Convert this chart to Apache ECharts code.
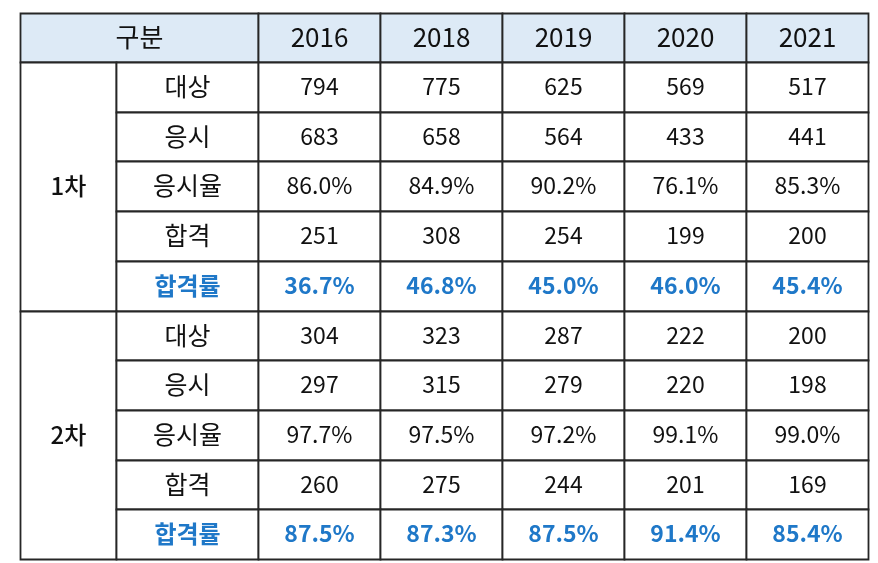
<!DOCTYPE html>
<html>
<head>
<meta charset="utf-8">
<script src="https://cdn.jsdelivr.net/npm/echarts@6/dist/echarts.min.js"></script>
<style>
html, body { margin: 0; padding: 0; background: #fff; }
#main { width: 878px; height: 563px; }
</style>
</head>
<body>
<div id="main"></div>
<script>
// 표 데이터
var years = ['2016', '2018', '2019', '2020', '2021']
var rounds = ['1차', '2차']
var items = ['대상', '응시', '응시율', '합격', '합격률']

var r1Target = [794, 775, 625, 569, 517]
var r1Applied = [683, 658, 564, 433, 441]
var r1ApplyRate = [86.0, 84.9, 90.2, 76.1, 85.3]
var r1Passed = [251, 308, 254, 199, 200]
var r1PassRate = [36.7, 46.8, 45.0, 46.0, 45.4]

var r2Target = [304, 323, 287, 222, 200]
var r2Applied = [297, 315, 279, 220, 198]
var r2ApplyRate = [97.7, 97.5, 97.2, 99.1, 99.0]
var r2Passed = [260, 275, 244, 201, 169]
var r2PassRate = [87.5, 87.3, 87.5, 91.4, 85.4]

// 레이아웃 (축 단위)
var colEdges = [0, 96, 238, 360, 482, 604, 726, 848]
var rowEdges = [0, 49]
for (var k = 1; k <= 10; k++) rowEdges.push(49 + k * 49.7)

var pct = function (v) { return v.toFixed(1) + '%' }

var cells = []
function addCell(c0, c1, r0, r1, text, kind) {
    cells.push({ c0: c0, c1: c1, r0: r0, r1: r1, text: text, kind: kind })
}

// 헤더
addCell(0, 2, 0, 1, '구분', 'head')
years.forEach(function (y, i) { addCell(i + 2, i + 3, 0, 1, y, 'head') })

var blocks = [
    [r1Target, r1Applied, r1ApplyRate, r1Passed, r1PassRate],
    [r2Target, r2Applied, r2ApplyRate, r2Passed, r2PassRate]
]
blocks.forEach(function (rows, b) {
    var base = 1 + b * 5
    addCell(0, 1, base, base + 5, rounds[b], 'round')
    rows.forEach(function (vals, j) {
        var isRate = j === 2 || j === 4
        var kind = j === 4 ? 'blue' : 'body'
        addCell(1, 2, base + j, base + j + 1, items[j], j === 4 ? 'blueLabel' : 'label')
        vals.forEach(function (v, i) {
            addCell(i + 2, i + 3, base + j, base + j + 1, isRate ? pct(v) : String(v), kind)
        })
    })
})

var fontOf = {
    head: '400 26px "Noto Sans CJK KR", sans-serif',
    round: '500 24px "Noto Sans CJK KR", sans-serif',
    label: '400 25px "Noto Sans CJK KR", sans-serif',
    blueLabel: '700 24px "Noto Sans CJK KR", sans-serif',
    body: '400 23px "Noto Sans CJK KR", sans-serif',
    blue: '700 23px "Noto Sans CJK KR", sans-serif'
}
var colorOf = {
    head: '#111', round: '#111', label: '#111',
    blueLabel: '#1f78c8', body: '#111', blue: '#1f78c8'
}

var myChart = echarts.init(document.getElementById('main'))
myChart.setOption({
    animation: false,
    grid: { left: 20, right: 10, top: 13, bottom: 4 },
    xAxis: { type: 'value', min: 0, max: colEdges[colEdges.length - 1], show: false },
    yAxis: { type: 'value', min: 0, max: rowEdges[rowEdges.length - 1], inverse: true, show: false },
    series: [{
        type: 'custom',
        data: cells.map(function (c, i) { return [colEdges[c.c0], rowEdges[c.r0], i] }),
        renderItem: function (params, api) {
            var c = cells[params.dataIndex]
            var p0 = api.coord([colEdges[c.c0], rowEdges[c.r0]])
            var p1 = api.coord([colEdges[c.c1], rowEdges[c.r1]])
            var x = Math.round(p0[0]) + 0.5, y = Math.round(p0[1]) + 0.5
            var w = Math.round(p1[0]) - Math.round(p0[0]), h = Math.round(p1[1]) - Math.round(p0[1])
            return {
                type: 'group',
                children: [{
                    type: 'rect',
                    shape: { x: x, y: y, width: w, height: h },
                    style: { fill: c.kind === 'head' ? '#ddeaf6' : '#fff', stroke: '#262626', lineWidth: 1.8 }
                }, {
                    type: 'text',
                    x: x + w / 2,
                    y: y + h / 2 - 1,
                    style: {
                        text: c.text,
                        font: fontOf[c.kind],
                        fill: colorOf[c.kind],
                        align: 'center',
                        verticalAlign: 'middle'
                    }
                }]
            }
        }
    }]
})
</script>
</body>
</html>
